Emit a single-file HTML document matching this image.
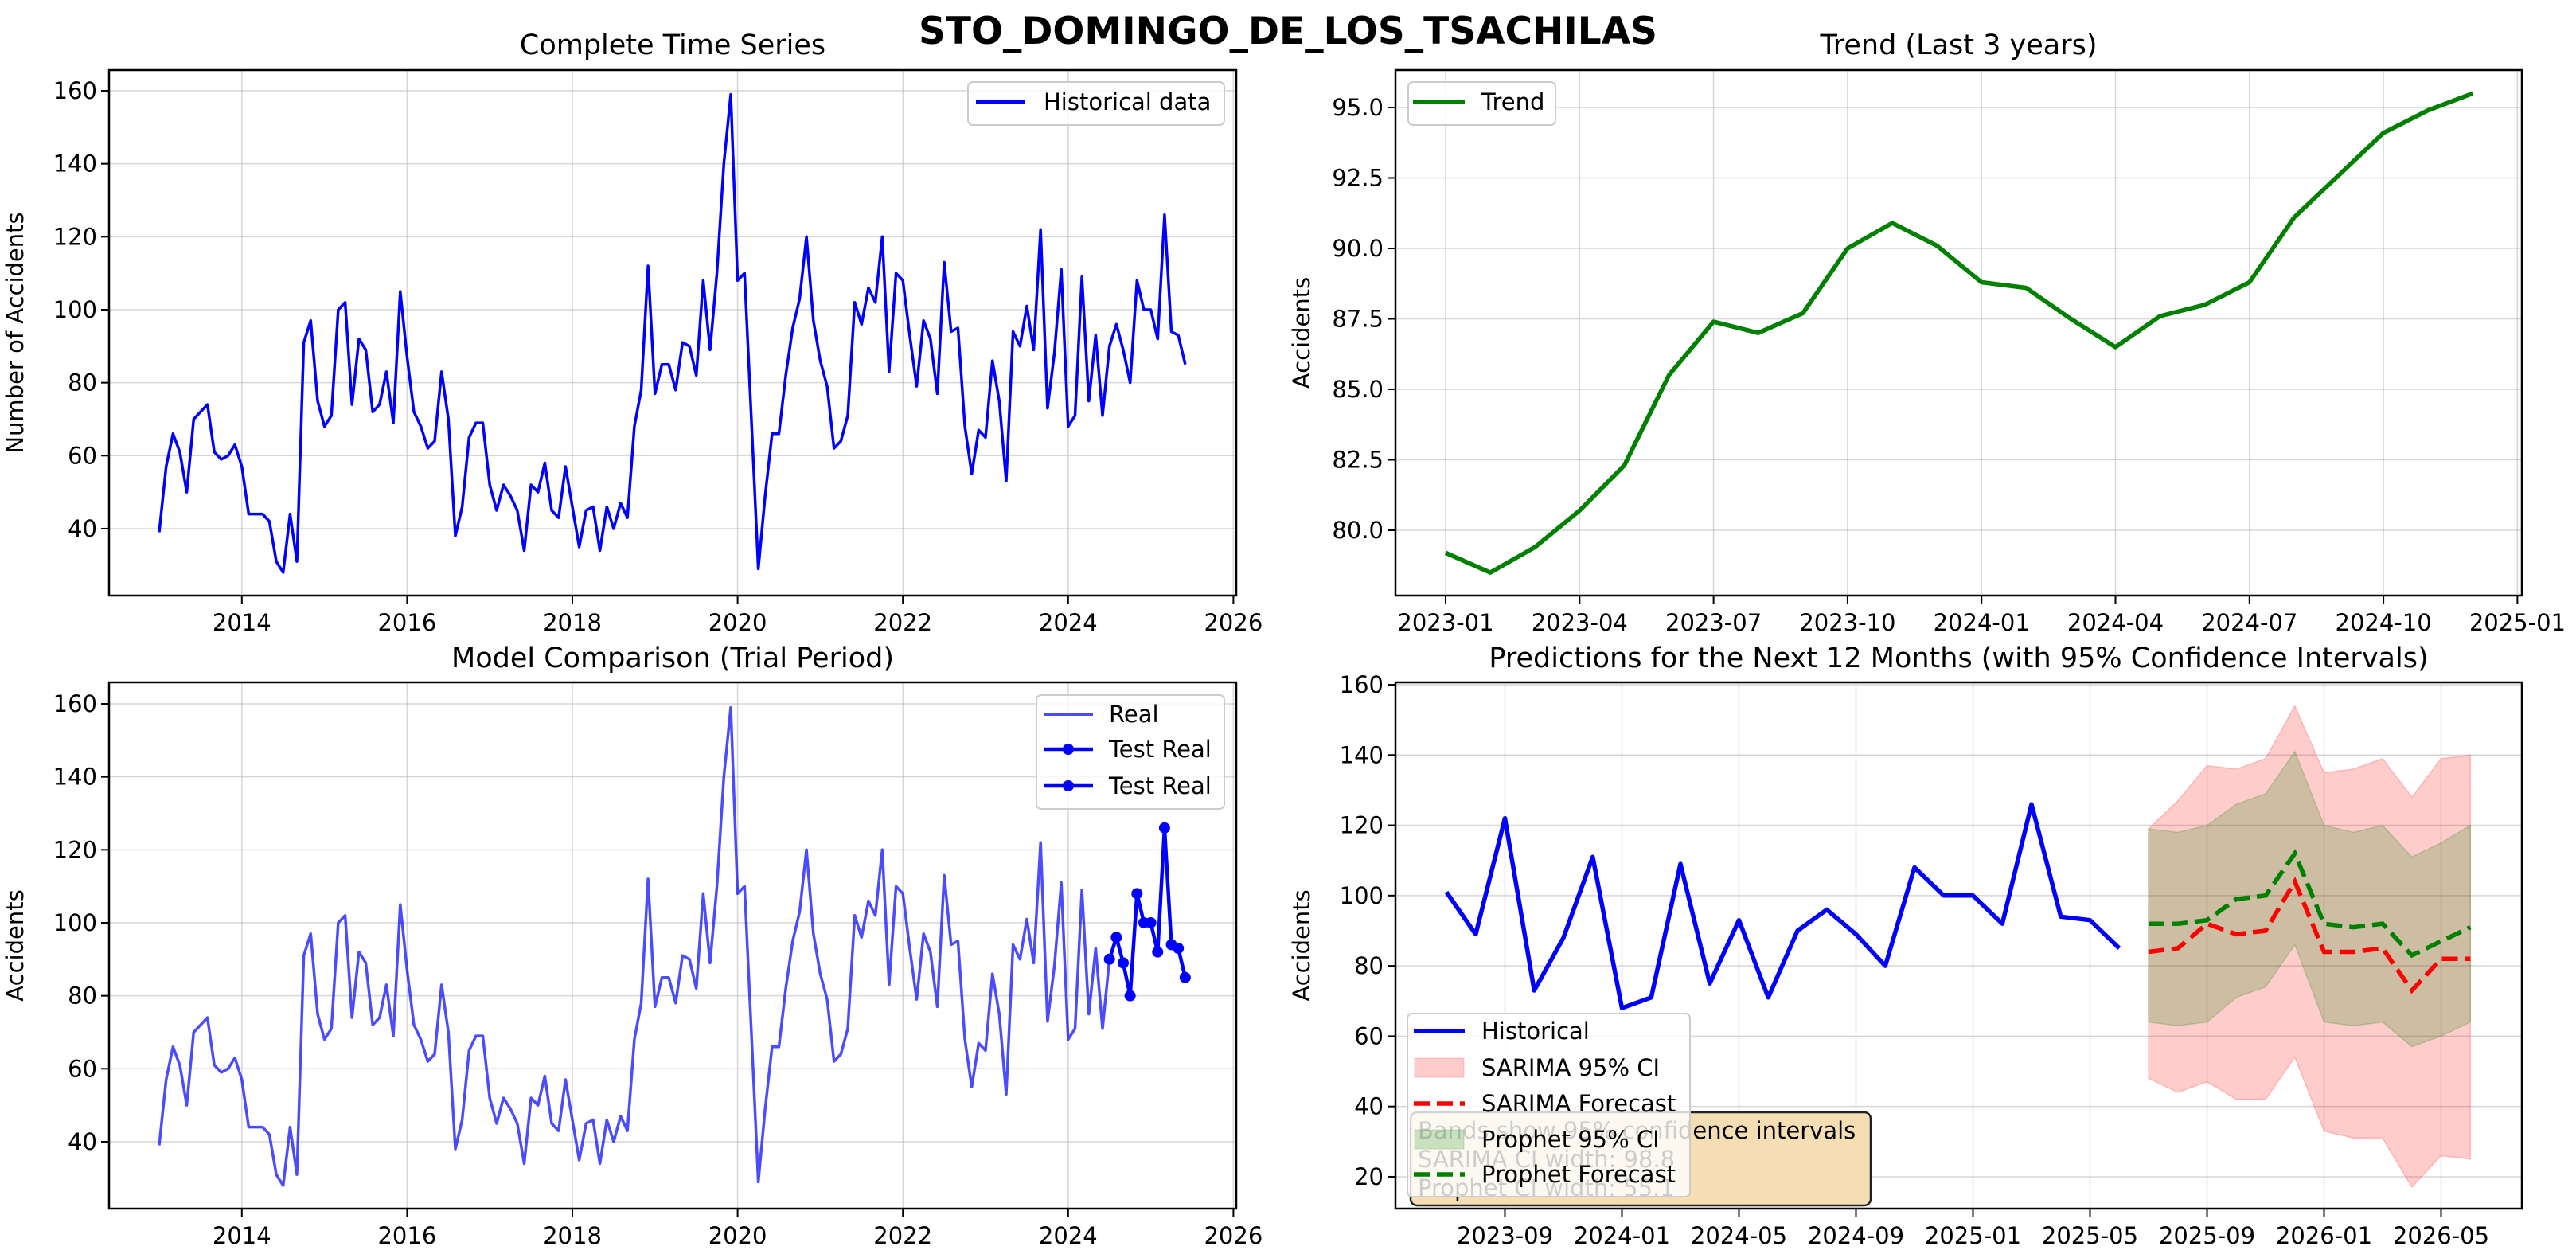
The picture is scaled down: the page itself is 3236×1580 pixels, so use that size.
<!DOCTYPE html>
<html><head><meta charset="utf-8"><style>
html,body{margin:0;padding:0;background:#fff;}
svg{display:block;font-family:"DejaVu Sans","Liberation Sans",sans-serif;}
</style></head><body>
<svg id="fig" width="3236" height="1580" viewBox="0 0 3236 1580" xmlns="http://www.w3.org/2000/svg">
<rect width="3236" height="1580" fill="#fff"/>
<text x="1618" y="55" text-anchor="middle" font-size="47" font-weight="bold">STO_DOMINGO_DE_LOS_TSACHILAS</text>
<g id="p1"></g>
<g id="p2"></g>
<g id="p3"></g>
<g id="p4"></g>
</svg>
<script>
// Monthly accidents 2013-01 .. 2025-06
const historyValues = [
39,57,66,61,50,70,72,74,61,59,60,63,
57,44,44,44,42,31,28,44,31,91,97,75,
68,71,100,102,74,92,89,72,74,83,69,105,
87,72,68,62,64,83,70,38,46,65,69,69,
52,45,52,49,45,34,52,50,58,45,43,57,
46,35,45,46,34,46,40,47,43,68,78,112,
77,85,85,78,91,90,82,108,89,110,140,159,
108,110,70,29,49,66,66,82,95,103,120,97,
86,79,62,64,71,102,96,106,102,120,83,110,
108,93,79,97,92,77,113,94,95,68,55,67,
65,86,75,53,94,90,101,89,122,73,88,111,
68,71,109,75,93,71,90,96,89,80,108,100,
100,92,126,94,93,85];
const historyStart = [2013, 1];
const testStartIndex = 138; // 2024-07
const yearTicks = [2014,2016,2018,2020,2022,2024,2026];
const countTicks = [40,60,80,100,120,140,160];
// Trend 2023-01 .. 2024-12
const trendValues = [79.2,78.5,79.4,80.7,82.3,85.5,87.4,87.0,87.7,90.0,90.9,90.1,88.8,88.6,87.5,86.5,87.6,88.0,88.8,91.1,92.6,94.1,94.9,95.5];
const trendTickLabels = ["2023-01","2023-04","2023-07","2023-10","2024-01","2024-04","2024-07","2024-10","2025-01"];
const trendYTicks = [80.0,82.5,85.0,87.5,90.0,92.5,95.0];
// Forecast panel: historical last 24 months (2023-07..2025-06), forecasts 2025-07..2026-06
const recentStartIndex = 126;
const sarimaForecast = [84,85,92,89,90,104,84,84,85,73,82,82];
const sarimaUpper = [119,127,137,136,139,154,135,136,139,128,139,140];
const sarimaLower = [48,44,47,42,42,54,33,31,31,17,26,25];
const prophetForecast = [92,92,93,99,100,112,92,91,92,83,87,91];
const prophetUpper = [119,118,120,126,129,141,120,118,120,111,115,120];
const prophetLower = [64,63,64,71,74,86,64,63,64,57,60,64];
const forecastTickLabels = ["2023-09","2024-01","2024-05","2024-09","2025-01","2025-05","2025-09","2026-01","2026-05"];
const forecastYTicks = [20,40,60,80,100,120,140,160];

const NS="http://www.w3.org/2000/svg";
function mk(parent,tag,attrs,text){const e=document.createElementNS(NS,tag);for(const k in attrs)e.setAttribute(k,attrs[k]);if(text!==undefined)e.textContent=text;parent.appendChild(e);return e;}
function pts(xs,ys){return xs.map((x,i)=>x.toFixed(1)+","+ys[i].toFixed(1)).join(" ");}

function frame(g,L,R,T,B,title,titleY,ylabel){
  const t=mk(g,'text',{x:(L+R)/2,y:titleY,'text-anchor':'middle','font-size':35},title);
  
  
  const yl=mk(g,'text',{x:0,y:0,'text-anchor':'middle','font-size':29,transform:`translate(${L-108},${(T+B)/2}) rotate(-90)`},ylabel);
  
  
}
function border(g,L,R,T,B){
  const r=mk(g,'rect',{x:L,y:T,width:R-L,height:B-T,fill:'none',stroke:'#000','stroke-width':2.5});
  
  
}
function xtick(g,x,T,B,label){
  mk(g,'line',{x1:x,x2:x,y1:T,y2:B,stroke:'#b0b0b0','stroke-width':1.5,'stroke-opacity':0.5});
  mk(g,'line',{x1:x,x2:x,y1:B,y2:B+10,stroke:'#000','stroke-width':2});
  const t=mk(g,'text',{x:x,y:B+44,'text-anchor':'middle','font-size':29},label);
  
  
}
function ytick(g,y,L,R,label){
  mk(g,'line',{x1:L,x2:R,y1:y,y2:y,stroke:'#b0b0b0','stroke-width':1.5,'stroke-opacity':0.5});
  mk(g,'line',{x1:L-10,x2:L,y1:y,y2:y,stroke:'#000','stroke-width':2});
  const t=mk(g,'text',{x:L-15,y:y+10,'text-anchor':'end','font-size':29},label);
  
  
}
function legendBox(g,x,y,w,h){
  const r=mk(g,'rect',{x:x,y:y,width:w,height:h,rx:6,fill:'#fff','fill-opacity':0.8,stroke:'#ccc','stroke-width':2});
  
  
}
function legendText(g,x,y,label){
  const t=mk(g,'text',{x:x,y:y+10,'font-size':29},label);
  
  
}

// ===== Panel 1 =====
(function(){
  const g=document.getElementById('p1');
  const L=137,R=1553,T=88,B=748;
  const X=m=>200+m*8.65;
  const Y=v=>114+(160-v)*4.583;
  frame(g,L,R,T,B,'Complete Time Series',68,'Number of Accidents');
  yearTicks.forEach(yr=>xtick(g,X((yr-historyStart[0])*12),T,B,String(yr)));
  countTicks.forEach(v=>ytick(g,Y(v),L,R,String(v)));
  const xs=historyValues.map((v,i)=>X(i)), ys=historyValues.map(v=>Y(v));
  const pl=mk(g,'polyline',{points:pts(xs,ys),fill:'none',stroke:'#0000ff','stroke-width':3.5,'stroke-linejoin':'round'});
  
  
  border(g,L,R,T,B);
  legendBox(g,1216,103,322,54);
  mk(g,'line',{x1:1226,x2:1288,y1:128,y2:128,stroke:'#0000ff','stroke-width':4});
  legendText(g,1311,128,'Historical data');
})();

// ===== Panel 2 =====
(function(){
  const g=document.getElementById('p2');
  const L=1753,R=3168,T=88,B=748;
  const X=m=>1816+m*56.1;
  const Y=v=>666-(v-80)*35.4;
  frame(g,L,R,T,B,'Trend (Last 3 years)',68,'Accidents');
  trendTickLabels.forEach((lab,i)=>xtick(g,X(i*3),T,B,lab));
  trendYTicks.forEach(v=>ytick(g,Y(v),L,R,v.toFixed(1)));
  const xs=trendValues.map((v,i)=>X(i)), ys=trendValues.map(v=>Y(v));
  const pl=mk(g,'polyline',{points:pts(xs,ys),fill:'none',stroke:'#008000','stroke-width':5.5,'stroke-linejoin':'round'});
  
  
  border(g,L,R,T,B);
  legendBox(g,1769,103,185,54);
  mk(g,'line',{x1:1775,x2:1840,y1:128,y2:128,stroke:'#008000','stroke-width':5.5});
  legendText(g,1861,128,'Trend');
})();

// ===== Panel 3 =====
(function(){
  const g=document.getElementById('p3');
  const L=137,R=1553,T=857,B=1518;
  const X=m=>200+m*8.65;
  const Y=v=>884+(160-v)*4.583;
  frame(g,L,R,T,B,'Model Comparison (Trial Period)',838,'Accidents');
  yearTicks.forEach(yr=>xtick(g,X((yr-historyStart[0])*12),T,B,String(yr)));
  countTicks.forEach(v=>ytick(g,Y(v),L,R,String(v)));
  const xs=historyValues.map((v,i)=>X(i)), ys=historyValues.map(v=>Y(v));
  const pl=mk(g,'polyline',{points:pts(xs,ys),fill:'none',stroke:'#0000ff','stroke-opacity':0.7,'stroke-width':3.5,'stroke-linejoin':'round'});
  
  
  const tv=historyValues.slice(testStartIndex);
  const txs=tv.map((v,i)=>X(testStartIndex+i)), tys=tv.map(v=>Y(v));
  const tl=mk(g,'polyline',{points:pts(txs,tys),fill:'none',stroke:'#0000ff','stroke-width':4.5,'stroke-linejoin':'round'});
  
  
  tv.forEach((v,i)=>{
    const c=mk(g,'circle',{cx:txs[i],cy:tys[i],r:7,fill:'#0000ff'});
    
    
  });
  border(g,L,R,T,B);
  legendBox(g,1302,873,236,143);
  mk(g,'line',{x1:1311,x2:1373,y1:897,y2:897,stroke:'#0000ff','stroke-opacity':0.7,'stroke-width':4});
  legendText(g,1393,897,'Real');
  [941,987].forEach(y=>{
    mk(g,'line',{x1:1311,x2:1373,y1:y,y2:y,stroke:'#0000ff','stroke-width':4.5});
    mk(g,'circle',{cx:1342,cy:y,r:7,fill:'#0000ff'});
    legendText(g,1393,y,'Test Real');
  });
})();

// ===== Panel 4 =====
(function(){
  const g=document.getElementById('p4');
  const L=1753,R=3168,T=857,B=1518;
  const X=m=>1817+m*36.75;
  const Y=v=>860+(160-v)*4.414;
  frame(g,L,R,T,B,'Predictions for the Next 12 Months (with 95% Confidence Intervals)',838,'Accidents');
  forecastTickLabels.forEach((lab,i)=>xtick(g,X(2+i*4),T,B,lab));
  forecastYTicks.forEach(v=>ytick(g,Y(v),L,R,String(v)));
  const n=sarimaForecast.length, fx=sarimaForecast.map((v,i)=>X(24+i));
  function band(up,lo,fill,op,stroke,name){
    const p=fx.map((x,i)=>x.toFixed(1)+","+Y(up[i]).toFixed(1)).concat(fx.slice().reverse().map((x,j)=>x.toFixed(1)+","+Y(lo[n-1-j]).toFixed(1))).join(" ");
    const e=mk(g,'polygon',{points:p,fill:fill,'fill-opacity':op,stroke:stroke,'stroke-opacity':op,'stroke-width':1.5});
    
    
  }
  band(sarimaUpper,sarimaLower,'#ff0000',0.2,'#ff0000','sarima-ci-band');
  band(prophetUpper,prophetLower,'#008000',0.2,'#008000','prophet-ci-band');
  const hv=historyValues.slice(recentStartIndex);
  const hl=mk(g,'polyline',{points:pts(hv.map((v,i)=>X(i)),hv.map(v=>Y(v))),fill:'none',stroke:'#0000ff','stroke-width':5.5,'stroke-linejoin':'round'});
  
  
  const sl=mk(g,'polyline',{points:pts(fx,sarimaForecast.map(v=>Y(v))),fill:'none',stroke:'#ff0000','stroke-width':5.5,'stroke-dasharray':'20,9'});
  
  
  const prl=mk(g,'polyline',{points:pts(fx,prophetForecast.map(v=>Y(v))),fill:'none',stroke:'#008000','stroke-width':5.5,'stroke-dasharray':'20,9'});
  
  
  const ab=mk(g,'rect',{x:1772,y:1397,width:578,height:117,rx:8,fill:'#f5deb3',stroke:'#222','stroke-width':2.5});
  
  
  ['Bands show 95% confidence intervals','SARIMA CI width: 98.8','Prophet CI width: 55.1'].forEach((s,i)=>{
    const t=mk(g,'text',{x:1781,y:1430+i*36,'font-size':29},s);
    
    
  });
  border(g,L,R,T,B);
  legendBox(g,1768,1273,355,230);
  const ly=[1295,1341,1386,1431,1475];
  mk(g,'line',{x1:1776,x2:1840,y1:ly[0],y2:ly[0],stroke:'#0000ff','stroke-width':5.5});
  legendText(g,1861,ly[0],'Historical');
  mk(g,'rect',{x:1777,y:ly[1]-12,width:62,height:24,fill:'#ff0000','fill-opacity':0.2,stroke:'#ff0000','stroke-opacity':0.2});
  legendText(g,1861,ly[1],'SARIMA 95% CI');
  mk(g,'line',{x1:1776,x2:1840,y1:ly[2],y2:ly[2],stroke:'#ff0000','stroke-width':5.5,'stroke-dasharray':'20,9'});
  legendText(g,1861,ly[2],'SARIMA Forecast');
  mk(g,'rect',{x:1777,y:ly[3]-12,width:62,height:24,fill:'#008000','fill-opacity':0.2,stroke:'#008000','stroke-opacity':0.2});
  legendText(g,1861,ly[3],'Prophet 95% CI');
  mk(g,'line',{x1:1776,x2:1840,y1:ly[4],y2:ly[4],stroke:'#008000','stroke-width':5.5,'stroke-dasharray':'20,9'});
  legendText(g,1861,ly[4],'Prophet Forecast');
})();
</script>
</body></html>
